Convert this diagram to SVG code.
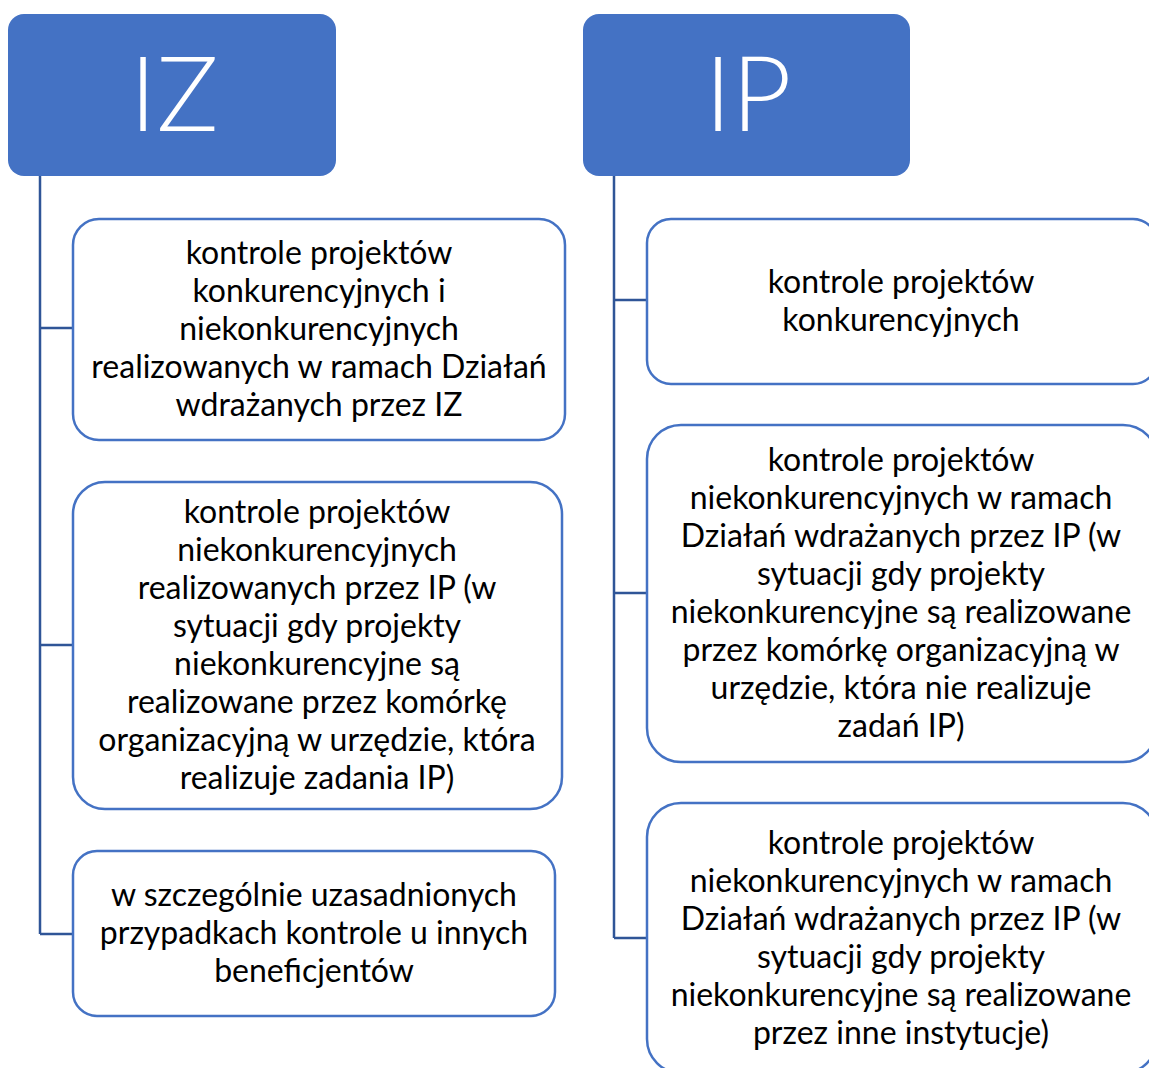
<svg xmlns="http://www.w3.org/2000/svg" width="1149" height="1068" viewBox="0 0 1149 1068">
<style>
.hdr{fill:#4472C4;}
.hdrt{font-family:Lato,"Liberation Sans",sans-serif;font-weight:300;font-size:104px;fill:#fff;text-anchor:middle;}
.box{fill:#fff;stroke:#4472C4;stroke-width:2.5;}
.t{font-family:Lato,"Liberation Sans",sans-serif;font-size:32px;fill:#000;text-anchor:middle;}
.con{fill:none;stroke:#2F5597;stroke-width:2.5;}
</style>
<rect width="1149" height="1068" fill="#fff"/>
<g id="connectors">
<path class="con" d="M40,176 V934 M40,328 H73 M40,645 H73 M40,934 H73"/>
<path class="con" d="M614,176 V938 M614,300 H647 M614,593 H647 M614,938 H647"/>
</g>
<g id="IZ">
<rect class="hdr" x="8" y="14" width="328" height="162" rx="16"/>
<text class="hdrt" x="174" y="131">IZ</text>
</g>
<g id="IP">
<rect class="hdr" x="583" y="14" width="327" height="162" rx="16"/>
<text class="hdrt" x="748" y="131">IP</text>
</g>
<g id="iz1">
<rect class="box" x="73" y="219" width="492" height="221" rx="26"/>
<text class="t"><tspan x="319" y="264">kontrole projektów</tspan><tspan x="319" y="302">konkurencyjnych i</tspan><tspan x="319" y="340">niekonkurencyjnych</tspan><tspan x="319" y="378">realizowanych w ramach Działań</tspan><tspan x="319" y="416">wdrażanych przez IZ</tspan></text>
</g>
<g id="iz2">
<rect class="box" x="73" y="482" width="489" height="327" rx="32"/>
<text class="t"><tspan x="317" y="523">kontrole projektów</tspan><tspan x="317" y="561">niekonkurencyjnych</tspan><tspan x="317" y="599">realizowanych przez IP (w</tspan><tspan x="317" y="637">sytuacji gdy projekty</tspan><tspan x="317" y="675">niekonkurencyjne są</tspan><tspan x="317" y="713">realizowane przez komórkę</tspan><tspan x="317" y="751">organizacyjną w urzędzie, która</tspan><tspan x="317" y="789">realizuje zadania IP)</tspan></text>
</g>
<g id="iz3">
<rect class="box" x="73" y="851" width="482" height="165" rx="24"/>
<text class="t"><tspan x="314" y="906">w szczególnie uzasadnionych</tspan><tspan x="314" y="944">przypadkach kontrole u innych</tspan><tspan x="314" y="982">beneficjentów</tspan></text>
</g>
<g id="ip1">
<rect class="box" x="647" y="219" width="510" height="165" rx="24"/>
<text class="t"><tspan x="901" y="293">kontrole projektów</tspan><tspan x="901" y="331">konkurencyjnych</tspan></text>
</g>
<g id="ip2">
<rect class="box" x="647" y="425" width="510" height="337" rx="34"/>
<text class="t"><tspan x="901" y="471">kontrole projektów</tspan><tspan x="901" y="509">niekonkurencyjnych w ramach</tspan><tspan x="901" y="547">Działań wdrażanych przez IP (w</tspan><tspan x="901" y="585">sytuacji gdy projekty</tspan><tspan x="901" y="623">niekonkurencyjne są realizowane</tspan><tspan x="901" y="661">przez komórkę organizacyjną w</tspan><tspan x="901" y="699">urzędzie, która nie realizuje</tspan><tspan x="901" y="737">zadań IP)</tspan></text>
</g>
<g id="ip3">
<rect class="box" x="647" y="803" width="510" height="270" rx="34"/>
<text class="t"><tspan x="901" y="854">kontrole projektów</tspan><tspan x="901" y="892">niekonkurencyjnych w ramach</tspan><tspan x="901" y="930">Działań wdrażanych przez IP (w</tspan><tspan x="901" y="968">sytuacji gdy projekty</tspan><tspan x="901" y="1006">niekonkurencyjne są realizowane</tspan><tspan x="901" y="1044">przez inne instytucje)</tspan></text>
</g>
</svg>
